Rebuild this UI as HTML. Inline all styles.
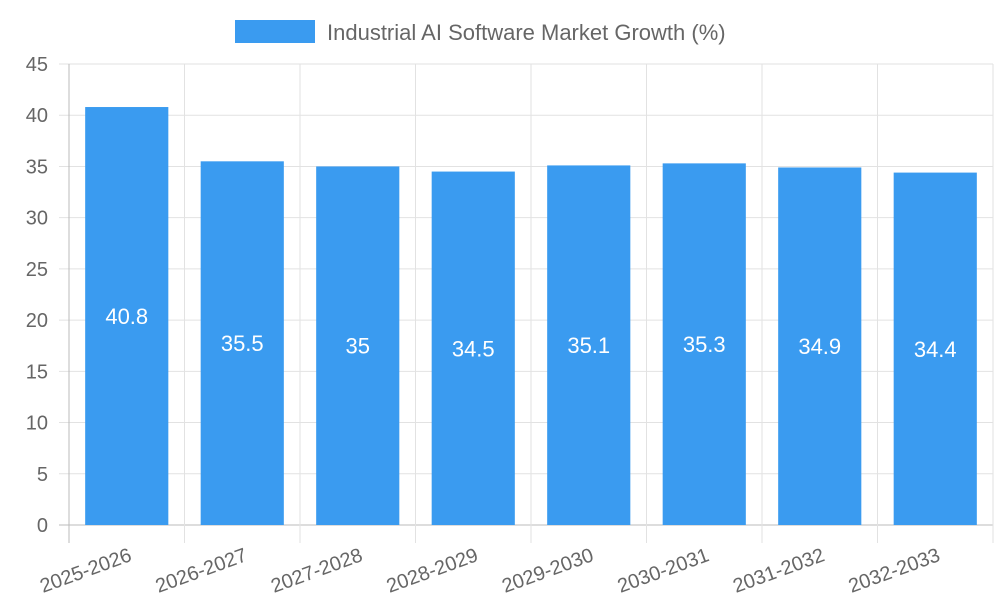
<!DOCTYPE html>
<html><head><meta charset="utf-8"><style>
body{margin:0;background:#fff;font-family:"Liberation Sans",sans-serif}
svg text{font-family:"Liberation Sans",sans-serif}
</style></head><body>
<svg id="c" width="1000" height="600" xmlns="http://www.w3.org/2000/svg">
<g>
<rect x="235" y="20" width="80" height="23" fill="#3a9bf0"/>
<text x="327" y="40" font-size="22" fill="#666">Industrial AI Software Market Growth (%)</text>
</g>
<g id="grid"></g>
<g id="bars"></g>
<g id="axes"></g>
</svg>
<script>
const categories=["2025-2026","2026-2027","2027-2028","2028-2029","2029-2030","2030-2031","2031-2032","2032-2033"];
const values=[40.8,35.5,35,34.5,35.1,35.3,34.9,34.4];
const yTicks=[0,5,10,15,20,25,30,35,40,45];
const NS="http://www.w3.org/2000/svg";
const L=69,R=993,T=64,B=525,yMax=45;
const band=(R-L)/categories.length;
const y=v=>B-(v/yMax)*(B-T);
const xb=i=>L+i*band;
function el(tag,attrs,parent,txt){const e=document.createElementNS(NS,tag);for(const k in attrs)e.setAttribute(k,attrs[k]);if(txt!==undefined)e.textContent=txt;parent.appendChild(e);return e;}
const grid=document.getElementById('grid'),bars=document.getElementById('bars'),axes=document.getElementById('axes');
yTicks.forEach(t=>{
  const g=el('line',{x1:L-10,x2:R,y1:y(t),y2:y(t),stroke:t===0?'#bbb':'#e2e2e2','stroke-width':1},grid);
  
  
  const tx=el('text',{x:48,y:y(t)+7,'text-anchor':'end','font-size':20,fill:'#666'},axes,String(t));
  
  
});
for(let i=0;i<=categories.length;i++){
  const g=el('line',{x1:xb(i),x2:xb(i),y1:T,y2:B+18,stroke:i===0?'#bbb':'#e2e2e2','stroke-width':1},grid);
  
  
}
categories.forEach((c,i)=>{
  const bw=band*0.72,cx=xb(i)+band/2;
  const r=el('rect',{x:cx-bw/2,y:y(values[i]),width:bw,height:B-y(values[i]),fill:'#3a9bf0'},bars);
  
  
  const v=el('text',{x:cx,y:(y(values[i])+B)/2+8,'text-anchor':'middle','font-size':22,fill:'#fff'},bars,String(values[i]));
  
  
  const lx=cx+2,ly=B+24;
  const t=el('text',{x:lx,y:ly+12,'text-anchor':'end','font-size':20,fill:'#666',transform:`rotate(-20 ${lx} ${ly})`},axes,c);
  
  
});
</script>
</body></html>
